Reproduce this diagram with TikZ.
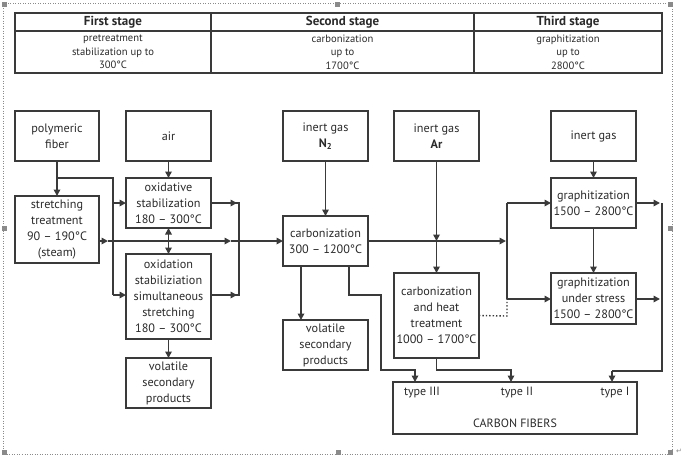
\documentclass[tikz,border=0pt]{standalone}
\usepackage{fontspec}
\setmainfont{PT Sans}
\newfontfamily\symfont{DejaVu Sans}
\usetikzlibrary{arrows.meta}
\definecolor{ln}{HTML}{3A3A3A}
\definecolor{tx}{HTML}{2A2A2A}
\definecolor{hd}{HTML}{8A8A8A}
\begin{document}
\begin{tikzpicture}[x=1pt,y=-1pt,
  line width=1.6pt, ln,
  box/.style={draw=ln, rectangle, inner sep=0pt, outer sep=0pt, align=center,
    text=tx, font=\fontsize{12.2}{16}\selectfont, minimum width=85pt, minimum height=50pt},
  arr/.style={-{Triangle[length=6.5pt,width=6.5pt]}},
  darr/.style={{Triangle[length=6.5pt,width=6.5pt]}-{Triangle[length=6.5pt,width=6.5pt]}},
  lbl/.style={text=tx, font=\fontsize{12}{13}\selectfont, inner sep=0pt},
  hdr/.style={text=tx, font=\fontsize{13}{14}\bfseries\selectfont, inner sep=0pt},
  row/.style={text=tx, font=\fontsize{10.6}{13.5}\selectfont, align=center, inner sep=0pt},
  handle/.style={fill=hd, draw=none, minimum size=5pt, inner sep=0pt}]
\useasboundingbox (0,0) rectangle (687,459);
% outer dotted frame
\draw[line width=0.5pt, dotted, hd] (3,3) rectangle (672,454);
\foreach \p/\q in {4/4,337/4,670/4,4/228,670/228,4/452,338/452,670/452}
  \node[handle] at (\p,\q) {};
\node[text=hd, font=\symfont\fontsize{7}{8}\selectfont, inner sep=0pt] (ret) at (679,451) {↵};
% table
\draw (15,13) rectangle (662,73);
\draw (15,31) -- (662,31);
\draw (211,13) -- (211,73);
\draw (474,13) -- (474,73);
\node[hdr] (h1) at (113,22) {First stage};
\node[hdr] (h2) at (342.5,22) {Second stage};
\node[hdr] (h3) at (568,22) {Third stage};
\node[row] (r1) at (113,52) {pretreatment\\stabilization up to\\300°C};
\node[row] (r2) at (342.5,52) {carbonization\\up to\\1700°C};
\node[row] (r3) at (568,52) {graphitization\\up to\\2800°C};
% boxes
\node[box, minimum width=84pt] (pf) at (57,136) {polymeric\\fiber};
\node[box] (air) at (168.5,136) {air};
\node[box] (ox) at (168.5,203) {oxidative\\stabilization\\180 – 300°C};
\node[box, minimum width=84pt, minimum height=67pt] (st) at (57,229.5) {stretching\\treatment\\90 – 190°C\\(steam)};
\node[box, minimum height=85pt] (oss) at (168.5,296.5) {oxidation\\stabiliziation\\simultaneous\\stretching\\180 – 300°C};
\node[box] (vol1) at (168.5,383) {volatile\\secondary\\products};
\node[box] (n2) at (325.5,136) {inert gas\\\textbf{N\textsubscript{2}}};
\node[box] (ar) at (436.5,136) {inert gas\\\textbf{Ar}};
\node[box] (carb) at (325.5,241) {carbonization\\300 – 1200°C};
\node[box, minimum height=85pt] (cht) at (436.5,315.5) {carbonization\\and heat\\treatment\\1000 – 1700°C};
\node[box] (vol2) at (325.5,345) {volatile\\secondary\\products};
\node[box] (ig) at (593.5,136) {inert gas};
\node[box] (gr) at (593.5,203) {graphitization\\1500 – 2800°C};
\node[box, minimum height=51pt] (grs) at (593.5,298.5) {graphitization\\under stress\\1500 – 2800°C};
\node[box, minimum width=244pt, minimum height=52pt] (cf) at (515,408) {};
\node[lbl] (t3) at (422,393) {type III};
\node[lbl] (t2) at (517,393) {type II};
\node[lbl] (t1) at (615,393) {type I};
\node[lbl] (cft) at (515,423) {CARBON FIBERS};
% junction coordinates
\coordinate (a1) at (57,178);
\coordinate (a2) at (113,178);
\coordinate (a3) at (113,203);
\coordinate (a4) at (113,295);
\coordinate (b1) at (239,203);
\coordinate (b2) at (239,295);
\coordinate (m1) at (108,241);
\coordinate (m2) at (231,241);
\coordinate (c1) at (507,203);
\coordinate (c2) at (507,299);
\coordinate (c3) at (507,316);
\coordinate (c0) at (506,241);
\coordinate (d1) at (662,203);
\coordinate (d2) at (662,299);
\coordinate (d3) at (662,371);
\coordinate (d4) at (612,371);
\coordinate (e1) at (349,295);
\coordinate (e2) at (381,295);
\coordinate (e3) at (381,370);
\coordinate (e4) at (415,370);
\coordinate (f1) at (436.5,370);
\coordinate (f2) at (511,370);
% connectors, first stage
\draw[arr] (pf.south) -- (st.north);
\draw (a1) -- (a2) -- (a4);
\draw[arr] (a3) -- (ox.west |- a3);
\draw[arr] (a4) -- (oss.west |- a4);
\draw[arr] (air.south) -- (ox.north);
\draw[darr] (ox.south) -- (oss.north);
\draw[arr] (oss.south) -- (vol1.north);
\draw (ox.east) -- (b1) -- (b2) -- (oss.east |- b2);
\draw[arr] (ox.east) -- ([xshift=-2pt]b1);
\draw[arr] (oss.east |- b2) -- ([xshift=-2pt]b2);
% main line
\draw[arr] (st.east |- carb.west) -- (m1);
\draw[arr] (m1) -- (m2);
\draw[arr] (m2) -- (carb.west);
% second stage
\draw[arr] (n2.south) -- (carb.north);
\draw[arr] (ar.south) -- (ar.south |- carb.east);
\draw[arr] (ar.south |- carb.east) -- (cht.north);
\draw[arr] (carb.east) -- (c0);
\draw (c1) -- (c2);
\draw[arr] (c1) -- (gr.west |- c1);
\draw[arr] (c2) -- (grs.west |- c2);
\draw[dotted, line width=1.4pt] (cht.east) -- (c3) -- (c2);
\draw[arr] (carb.south -| 301,0) -- (vol2.north -| 301,0);
\draw[arr] (carb.south -| e1) -- (e1) -- (e2) -- (e3) -- (e4) -- (cf.north -| e4);
\draw[arr] (cht.south) -- (f1) -- (f2) -- (cf.north -| f2);
% third stage
\draw[arr] (ig.south) -- (gr.north);
\draw[arr] (gr.south) -- (grs.north);
\draw (d1) -- (d3) -- (d4);
\draw[arr] (gr.east) -- ([xshift=-2pt]d1);
\draw[arr] (grs.east |- d2) -- ([xshift=-2pt]d2);
\draw[arr] (d4) -- (cf.north -| d4);
\end{tikzpicture}
\end{document}
